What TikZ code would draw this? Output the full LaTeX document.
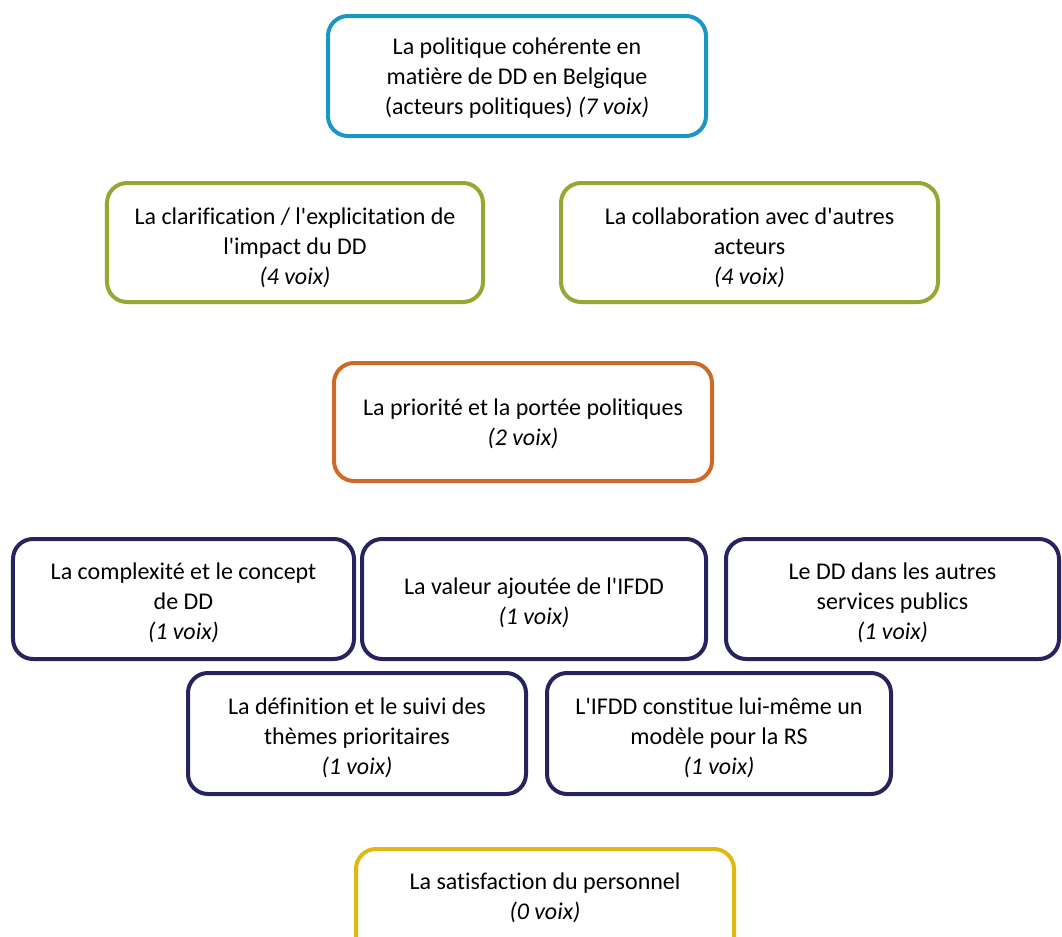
\documentclass[tikz,border=0pt]{standalone}
\usepackage{fontspec}
\setmainfont{Carlito}[Ligatures={TeXOff,CommonOff}]
\definecolor{cblue}{HTML}{1896C4}
\definecolor{cgreen}{HTML}{93A932}
\definecolor{corange}{HTML}{CD6A28}
\definecolor{cnavy}{HTML}{27235E}
\definecolor{cyellow}{HTML}{E2B714}
\tikzset{
  box/.style={draw, line width=4bp, rounded corners=20bp, fill=white, inner sep=0pt},
  boxtext/.style={align=center, inner sep=0pt, font=\fontsize{24bp}{30bp}\selectfont, text=black},
}
\begin{document}
\begin{tikzpicture}[x=1bp,y=-1bp]
\clip (0,0) rectangle (1062,937);
\fill[white] (0,0) rectangle (1062,937);
% top
\node[box, draw=cblue, minimum width=378bp, minimum height=120bp] (top) at (517,76) {};
\node[boxtext] (topt) at ([yshift=-2bp]top.center)
  {La politique cohérente en\\matière de DD en Belgique\\(acteurs politiques) \textit{(7 voix)}};
% green
\node[box, draw=cgreen, minimum width=376bp, minimum height=119bp] (g1) at (295,242.5) {};
\node[boxtext] (g1t) at ([yshift=-5bp]g1.center)
  {La clarification / l'explicitation de\\l'impact du DD\\\textit{(4 voix)}};
\node[box, draw=cgreen, minimum width=377bp, minimum height=119bp] (g2) at (749.5,242.5) {};
\node[boxtext] (g2t) at ([yshift=-5bp]g2.center)
  {La collaboration avec d'autres\\acteurs\\\textit{(4 voix)}};
% orange
\node[box, draw=corange, minimum width=378bp, minimum height=118bp] (o1) at (523,422) {};
\node[boxtext] (o1t) at ([yshift=-2bp]o1.center)
  {La priorité et la portée politiques\\\textit{(2 voix)}};
% navy row 1
\node[box, draw=cnavy, minimum width=341bp, minimum height=120bp] (n1) at (183.5,599) {};
\node[boxtext] (n1t) at ([yshift=-4bp]n1.center)
  {La complexité et le concept\\de DD\\\textit{(1 voix)}};
\node[box, draw=cnavy, minimum width=344bp, minimum height=120bp] (n2) at (534,599) {};
\node[boxtext] (n2t) at ([yshift=-4bp]n2.center)
  {La valeur ajoutée de l'IFDD\\\textit{(1 voix)}};
\node[box, draw=cnavy, minimum width=333bp, minimum height=120bp] (n3) at (892.5,599) {};
\node[boxtext] (n3t) at ([yshift=-4bp]n3.center)
  {Le DD dans les autres\\services publics\\\textit{(1 voix)}};
% navy row 2
\node[box, draw=cnavy, minimum width=338bp, minimum height=121bp] (n4) at (357,733.5) {};
\node[boxtext] (n4t) at ([yshift=-4bp]n4.center)
  {La définition et le suivi des\\thèmes prioritaires\\\textit{(1 voix)}};
\node[box, draw=cnavy, minimum width=344bp, minimum height=121bp] (n5) at (719,733.5) {};
\node[boxtext] (n5t) at ([yshift=-4bp]n5.center)
  {L'IFDD constitue lui-même un\\modèle pour la RS\\\textit{(1 voix)}};
% yellow
\node[box, draw=cyellow, minimum width=378bp, minimum height=130bp] (y1) at (545,914) {};
\node[boxtext] (y1t) at (545,898)
  {La satisfaction du personnel\\\textit{(0 voix)}};
\end{tikzpicture}
\end{document}
